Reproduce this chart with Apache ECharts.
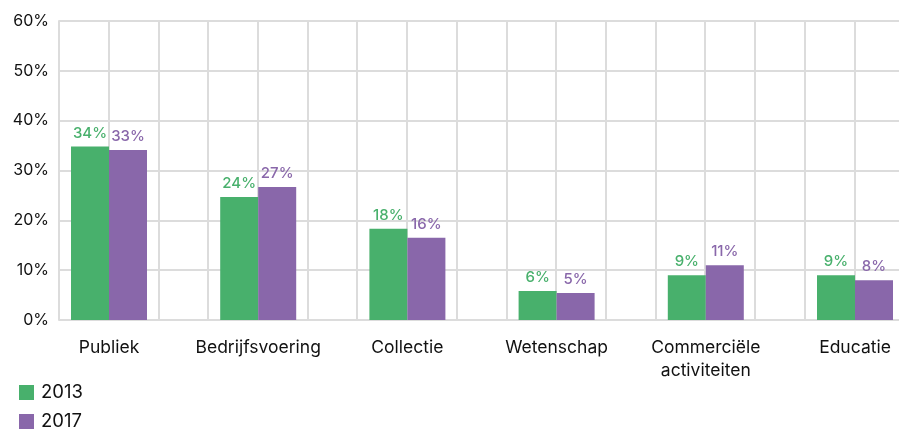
<!DOCTYPE html>
<html>
<head>
<meta charset="utf-8">
<script src="https://cdn.jsdelivr.net/npm/echarts@6/dist/echarts.min.js"></script>
<style>html,body{margin:0;padding:0;background:#fff;overflow:hidden;width:899px;height:429px}#c{width:940px;height:429px}</style>
</head>
<body>
<div id="c"></div>
<script>
const categories = ['Publiek', 'Bedrijfsvoering', 'Collectie', 'Wetenschap', 'Commerciële\nactiviteiten', 'Educatie'];
const seriesNames = ['2013', '2017'];
const values2013 = [34.8, 24.7, 18.3, 5.8, 9.0, 9.0];
const values2017 = [34.1, 26.7, 16.5, 5.4, 11.0, 8.0];
const labels2013 = ['34%', '24%', '18%', '6%', '9%', '9%'];
const labels2017 = ['33%', '27%', '16%', '5%', '11%', '8%'];
const yTicks = [0, 10, 20, 30, 40, 50, 60];

const GREEN = '#48b06c', PURPLE = '#8967aa';
const FONT = 'Inter';
const chart = echarts.init(document.getElementById('c'));
const gridTop = 21, gridBottom = 429 - 320;
chart.setOption({
  animation: false,
  textStyle: { fontFamily: FONT },
  legend: {
    orient: 'vertical', left: 14, top: 378, height: 60,
    itemWidth: 15, itemHeight: 15, itemGap: 10,
    icon: 'rect',
    textStyle: { fontSize: 18.5, color: '#111', fontFamily: FONT, lineHeight: 18, padding: [0, 0, 0, 2] },
    data: seriesNames
  },
  grid: [
    { left: 59, right: 40, top: gridTop, bottom: gridBottom, containLabel: false },
    { left: 34.4, right: 10.4, top: gridTop, bottom: gridBottom, containLabel: false }
  ],
  xAxis: [
    { type: 'value', gridIndex: 0, min: 0, max: 16.92, interval: 1,
      axisLabel: { show: false }, axisTick: { show: false }, axisLine: { show: false },
      splitLine: { show: true, lineStyle: { color: '#dcdcdc', width: 2 } } },
    { type: 'category', gridIndex: 1, data: categories,
      axisLine: { show: false }, axisTick: { show: false }, splitLine: { show: false },
      axisLabel: { interval: 0, fontSize: 17.5, color: '#111', margin: 16, lineHeight: 23, fontFamily: FONT } }
  ],
  yAxis: [
    { type: 'value', gridIndex: 0, min: yTicks[0], max: yTicks[yTicks.length - 1], interval: 10,
      axisLine: { show: true, lineStyle: { color: '#dcdcdc', width: 2 } }, axisTick: { show: false },
      axisLabel: { formatter: v => v + '%', fontSize: 16, color: '#111', margin: 10, fontFamily: FONT },
      splitLine: { show: true, lineStyle: { color: '#dcdcdc', width: 2 } } },
    { type: 'value', gridIndex: 1, min: yTicks[0], max: yTicks[yTicks.length - 1], interval: 10,
      show: false, splitLine: { show: false } }
  ],
  series: [
    { name: seriesNames[0], type: 'bar', xAxisIndex: 1, yAxisIndex: 1, data: values2013,
      barWidth: 38, barGap: '0%', itemStyle: { color: GREEN },
      label: { show: true, position: 'top', distance: 6, fontSize: 15, fontWeight: 500, color: GREEN, fontFamily: FONT,
        formatter: p => labels2013[p.dataIndex] } },
    { name: seriesNames[1], type: 'bar', xAxisIndex: 1, yAxisIndex: 1, data: values2017,
      barWidth: 38, barGap: '0%', itemStyle: { color: PURPLE },
      label: { show: true, position: 'top', distance: 6, fontSize: 15, fontWeight: 500, color: PURPLE, fontFamily: FONT,
        formatter: p => labels2017[p.dataIndex] } }
  ]
});
</script>
</body>
</html>
